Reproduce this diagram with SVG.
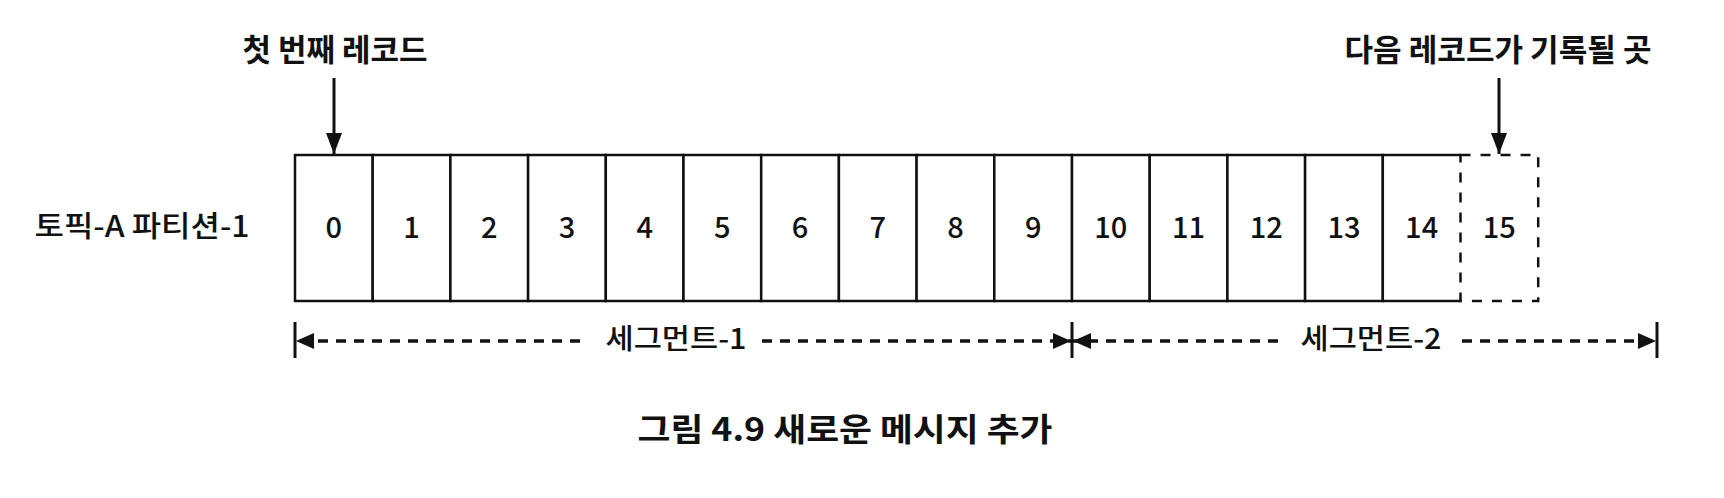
<svg xmlns="http://www.w3.org/2000/svg" width="1724" height="498" viewBox="0 0 1724 498">
<style>
  text { font-family: "Noto Sans CJK KR", "Noto Sans", sans-serif; fill: #111; }
  .lbl { font-size: 31px; font-weight: 700; text-anchor: middle; }
  .side { font-size: 29px; font-weight: 500; text-anchor: middle; }
  .num { font-size: 29px; font-weight: 500; text-anchor: middle; }
  .seg { font-size: 28px; font-weight: 500; text-anchor: middle; }
  .cap { font-size: 32px; font-weight: 700; text-anchor: middle; }
  .cell { fill: #fff; stroke: #111; stroke-width: 2.5; }
  .next { fill: none; stroke: #111; stroke-width: 2.5; stroke-dasharray: 10 10; }
  .ptr { stroke: #111; stroke-width: 3; fill: none; }
  .dim { stroke: #111; stroke-width: 3.5; stroke-dasharray: 10 8; fill: none; }
  .bar { stroke: #111; stroke-width: 3; }
</style>
<defs>
  <marker id="ah" viewBox="0 0 21 16" refX="21" refY="8" markerWidth="21" markerHeight="16" markerUnits="userSpaceOnUse" orient="auto">
    <path d="M0,0 L21,8 L0,16 Z" fill="#111"/>
  </marker>
  <marker id="dh" viewBox="0 0 18 16" refX="18" refY="8" markerWidth="18" markerHeight="16" markerUnits="userSpaceOnUse" orient="auto">
    <path d="M0,0 L18,8 L0,16 Z" fill="#111"/>
  </marker>
</defs>
<rect width="1724" height="498" fill="#fff"/>

<g id="label-first"><text class="lbl" x="335" y="61" textLength="185" lengthAdjust="spacingAndGlyphs">첫 번째 레코드</text></g>
<g id="label-next"><text class="lbl" x="1498" y="61" textLength="307" lengthAdjust="spacingAndGlyphs">다음 레코드가 기록될 곳</text></g>
<g id="label-partition"><text class="side" x="142" y="237" textLength="215" lengthAdjust="spacingAndGlyphs">토픽-A 파티션-1</text></g>

<g id="cell-0"><rect class="cell" x="295" y="155" width="77.7" height="146"/><text class="num" x="333.85" y="238">0</text></g>
<g id="cell-1"><rect class="cell" x="372.7" y="155" width="77.7" height="146"/><text class="num" x="411.55" y="238">1</text></g>
<g id="cell-2"><rect class="cell" x="450.4" y="155" width="77.7" height="146"/><text class="num" x="489.25" y="238">2</text></g>
<g id="cell-3"><rect class="cell" x="528.1" y="155" width="77.7" height="146"/><text class="num" x="566.95" y="238">3</text></g>
<g id="cell-4"><rect class="cell" x="605.8" y="155" width="77.7" height="146"/><text class="num" x="644.65" y="238">4</text></g>
<g id="cell-5"><rect class="cell" x="683.5" y="155" width="77.7" height="146"/><text class="num" x="722.35" y="238">5</text></g>
<g id="cell-6"><rect class="cell" x="761.2" y="155" width="77.7" height="146"/><text class="num" x="800.05" y="238">6</text></g>
<g id="cell-7"><rect class="cell" x="838.9" y="155" width="77.7" height="146"/><text class="num" x="877.75" y="238">7</text></g>
<g id="cell-8"><rect class="cell" x="916.6" y="155" width="77.7" height="146"/><text class="num" x="955.45" y="238">8</text></g>
<g id="cell-9"><rect class="cell" x="994.3" y="155" width="77.7" height="146"/><text class="num" x="1033.15" y="238">9</text></g>
<g id="cell-10"><rect class="cell" x="1072" y="155" width="77.7" height="146"/><text class="num" x="1110.85" y="238">10</text></g>
<g id="cell-11"><rect class="cell" x="1149.7" y="155" width="77.7" height="146"/><text class="num" x="1188.55" y="238">11</text></g>
<g id="cell-12"><rect class="cell" x="1227.4" y="155" width="77.7" height="146"/><text class="num" x="1266.25" y="238">12</text></g>
<g id="cell-13"><rect class="cell" x="1305.1" y="155" width="77.7" height="146"/><text class="num" x="1343.95" y="238">13</text></g>
<g id="cell-14"><path class="cell" d="M1460.5,155 H1382.8 V301 H1460.5" fill="none"/><text class="num" x="1421.65" y="238">14</text></g>
<g id="cell-15"><rect class="next" x="1460.5" y="155" width="77.7" height="146"/><text class="num" x="1499.35" y="238">15</text></g>

<g id="segment-1-label"><text class="seg" x="676" y="349" textLength="141" lengthAdjust="spacingAndGlyphs">세그먼트-1</text></g>
<g id="segment-2-label"><text class="seg" x="1371" y="349" textLength="141" lengthAdjust="spacingAndGlyphs">세그먼트-2</text></g>
<g id="caption"><text class="cap" x="845" y="441" textLength="415" lengthAdjust="spacingAndGlyphs">그림 4.9 새로운 메시지 추가</text></g>

<g id="connectors">
  <line class="ptr" x1="334" y1="78" x2="334" y2="154" marker-end="url(#ah)"/>
  <line class="ptr" x1="1499" y1="78" x2="1499" y2="154" marker-end="url(#ah)"/>
  <line class="bar" x1="295" y1="322" x2="295" y2="358"/>
  <line class="bar" x1="1072" y1="322" x2="1072" y2="358"/>
  <line class="bar" x1="1657" y1="322" x2="1657" y2="358"/>
  <line class="dim" x1="580" y1="341" x2="296" y2="341" marker-end="url(#dh)"/>
  <line class="dim" x1="762" y1="341" x2="1071" y2="341" marker-end="url(#dh)"/>
  <line class="dim" x1="1278" y1="341" x2="1073" y2="341" marker-end="url(#dh)"/>
  <line class="dim" x1="1462" y1="341" x2="1656" y2="341" marker-end="url(#dh)"/>
</g>
</svg>
